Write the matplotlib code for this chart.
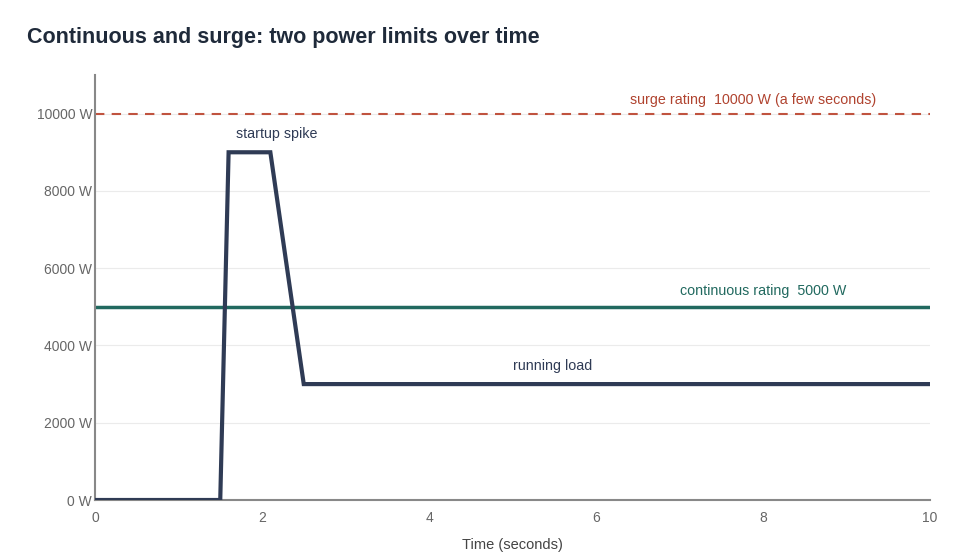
import matplotlib
matplotlib.use("Agg")
import matplotlib.pyplot as plt

plt.rcParams['font.family'] = ['Liberation Sans', 'DejaVu Sans']

time_s = [0, 1.5, 1.6, 2.1, 2.5, 10]
load_w = [0, 0, 9000, 9000, 3000, 3000]
continuous_w = 5000
surge_w = 10000
x_ticks = [0, 2, 4, 6, 8, 10]
y_ticks = [0, 2000, 4000, 6000, 8000, 10000]

fig = plt.figure(figsize=(9.8, 5.6), dpi=100)
ax = fig.add_axes([95/980, 60/560, 835/980, 425/560])

ax.set_xlim(0, 10)
ax.set_ylim(0, 11000)

for y in y_ticks[1:]:
    ax.axhline(y, color='#ebebeb', lw=0.8, zorder=0)

ax.axhline(surge_w, color='#c0533f', lw=1.5, ls=(0, (4.5, 3.5)), zorder=2)
ax.axhline(continuous_w, color='#21695f', lw=2.5, zorder=2)
ax.plot(time_s, load_w, color='#2f3b55', lw=3, zorder=3, solid_joinstyle='miter')

ax.text(9.36, 10360, 'surge rating  10000 W (a few seconds)', color='#b0432f',
        fontsize=10.3, ha='right', va='center')
ax.text(9.0, 5415, 'continuous rating  5000 W', color='#21695f',
        fontsize=10.3, ha='right', va='center')
ax.text(2.18, 9480, 'startup spike', color='#2f3b55', fontsize=10.3, ha='center', va='center')
ax.text(5.48, 3470, 'running load', color='#2f3b55', fontsize=10.3, ha='center', va='center')

ax.set_xticks(x_ticks)
ax.set_xticklabels([str(t) for t in x_ticks])
ax.set_yticks(y_ticks)
ax.set_yticklabels([f'{t} W' for t in y_ticks])
ax.tick_params(axis='both', length=0, labelsize=10, labelcolor='#666666')
ax.tick_params(axis='x', pad=8)
ax.tick_params(axis='y', pad=2)

for s in ['top', 'right']:
    ax.spines[s].set_visible(False)
for s in ['left', 'bottom']:
    ax.spines[s].set_color('#888888')
    ax.spines[s].set_linewidth(1.5)

ax.set_xlabel('Time (seconds)', fontsize=10.5, color='#444444', labelpad=9)

fig.text(27/980, 1 - 38/560, 'Continuous and surge: two power limits over time',
         fontsize=15.5, fontweight='bold', color='#1f2a3a', ha='left', va='center')

fig.savefig('out.png', dpi=100, facecolor='white')
